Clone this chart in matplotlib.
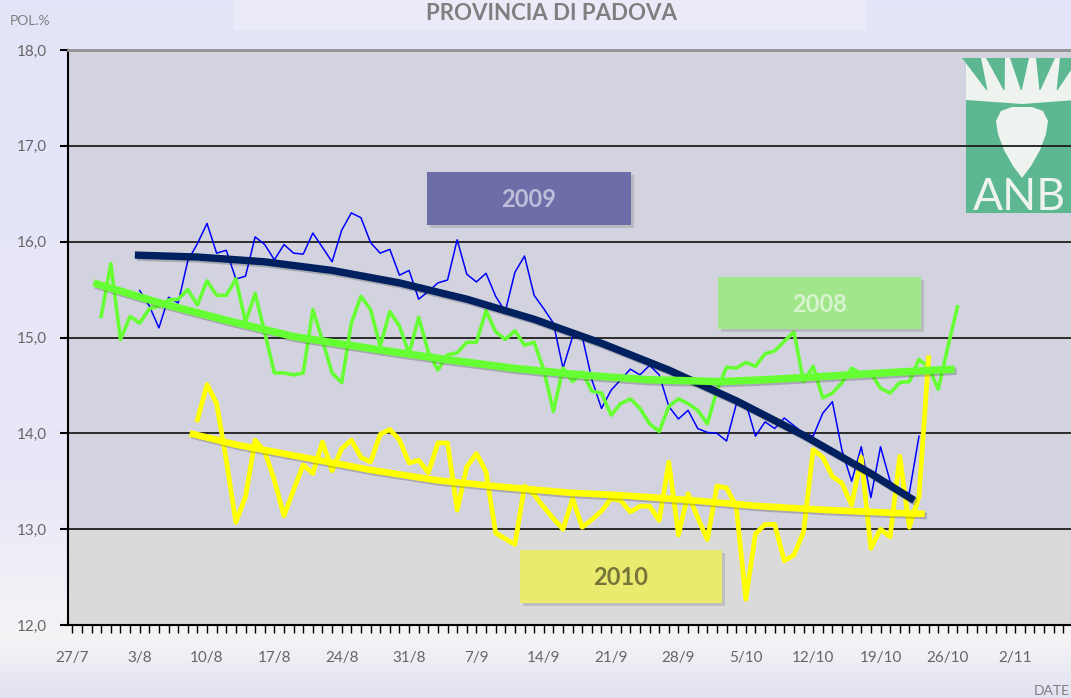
import numpy as np
import matplotlib
matplotlib.use('Agg')
import matplotlib.pyplot as plt
import matplotlib.transforms as mtransforms
import matplotlib.patheffects as pe
from matplotlib.patches import Rectangle, Polygon
from matplotlib.ticker import MultipleLocator, FixedLocator, FixedFormatter

W, H = 1071, 698
plt.rcParams['font.family'] = ['Lato', 'DejaVu Sans']

# days counted from 27/7
week_labels = ['27/7', '3/8', '10/8', '17/8', '24/8', '31/8', '7/9', '14/9',
               '21/9', '28/9', '5/10', '12/10', '19/10', '26/10', '2/11']
y_labels = ['12,0', '13,0', '14,0', '15,0', '16,0', '17,0', '18,0']

# daily polarisation values
start_2008 = 3
pol_2008 = [15.22, 15.77, 14.98, 15.22, 15.15, 15.30, 15.33, 15.39, 15.40, 15.50,
            15.34, 15.59, 15.44, 15.44, 15.61, 15.16, 15.46, 15.05, 14.63, 14.63,
            14.61, 14.63, 15.29, 14.97, 14.63, 14.53, 15.15, 15.43, 15.29, 14.91,
            15.27, 15.12, 14.83, 15.21, 14.85, 14.66, 14.82, 14.84, 14.95, 14.95,
            15.28, 15.06, 14.98, 15.07, 14.92, 14.95, 14.66, 14.23, 14.68, 14.54,
            14.64, 14.44, 14.42, 14.19, 14.31, 14.36, 14.26, 14.10, 14.02, 14.28,
            14.36, 14.31, 14.24, 14.10, 14.45, 14.69, 14.68, 14.74, 14.70, 14.83,
            14.86, 14.96, 15.06, 14.54, 14.70, 14.37, 14.42, 14.53, 14.68, 14.62,
            14.63, 14.47, 14.42, 14.53, 14.54, 14.77, 14.69, 14.46, 14.90, 15.32]

start_2009 = 7
pol_2009 = [15.49, 15.33, 15.10, 15.42, 15.36, 15.80, 15.98, 16.19, 15.88, 15.91,
            15.61, 15.64, 16.05, 15.97, 15.81, 15.97, 15.88, 15.87, 16.09, 15.94,
            15.79, 16.12, 16.30, 16.25, 15.99, 15.88, 15.92, 15.65, 15.70, 15.40,
            15.48, 15.57, 15.60, 16.02, 15.66, 15.58, 15.67, 15.43, 15.27, 15.68,
            15.85, 15.44, 15.30, 15.15, 14.68, 15.01, 15.01, 14.56, 14.26, 14.45,
            14.56, 14.67, 14.61, 14.71, 14.61, 14.28, 14.15, 14.24, 14.05, 14.01,
            14.00, 13.92, 14.30, 14.32, 13.97, 14.12, 14.05, 14.16, 14.08, 14.00,
            13.97, 14.21, 14.33, 13.82, 13.50, 13.86, 13.33, 13.86, 13.50, 13.39,
            13.38, 13.97]

start_2010 = 13
pol_2010 = [14.14, 14.51, 14.31, 13.72, 13.07, 13.34, 13.93, 13.81, 13.51, 13.14,
            13.41, 13.67, 13.58, 13.91, 13.61, 13.84, 13.93, 13.75, 13.70, 13.99,
            14.04, 13.93, 13.69, 13.72, 13.59, 13.90, 13.90, 13.20, 13.65, 13.79,
            13.60, 12.96, 12.90, 12.84, 13.45, 13.36, 13.23, 13.11, 13.00, 13.32,
            13.02, 13.10, 13.19, 13.32, 13.30, 13.18, 13.24, 13.24, 13.09, 13.70,
            12.94, 13.37, 13.12, 12.89, 13.45, 13.43, 13.24, 12.27, 12.95, 13.05,
            13.05, 12.67, 12.73, 12.97, 13.83, 13.75, 13.55, 13.48, 13.25, 13.75,
            12.80, 13.00, 12.92, 13.76, 13.02, 13.34, 14.79]

# trend lines
trend_2009_days = [6.5, 13, 20, 27, 34, 41, 48, 55, 62, 69, 76, 83, 87.5]
trend_2009_vals = [15.86, 15.84, 15.79, 15.70, 15.57, 15.40, 15.19, 14.94, 14.66,
                   14.34, 13.98, 13.58, 13.30]
trend_2008_days = [2.2, 9.1, 16, 23, 32, 38.9, 45.8, 52.8, 59.7, 67.3, 72.2, 79.1, 86, 91.7]
trend_2008_vals = [15.57, 15.36, 15.18, 15.01, 14.87, 14.77, 14.68, 14.61, 14.56,
                   14.54, 14.56, 14.60, 14.64, 14.67]
trend_2010_days = [12.2, 17.1, 24, 30.9, 37.9, 44.8, 51.7, 57.6, 64.5, 71.5, 78.4, 85.3, 88.6]
trend_2010_vals = [14.00, 13.88, 13.75, 13.62, 13.51, 13.44, 13.38, 13.35, 13.30,
                   13.24, 13.20, 13.17, 13.16]

fig = plt.figure(figsize=(W / 100, H / 100), dpi=100)
pix = mtransforms.Affine2D().scale(1 / W, -1 / H).translate(0, 1) + fig.transFigure

# figure background gradient
bg = fig.add_axes([0, 0, 1, 1], zorder=-5)
bg.set_xlim(0, W)
bg.set_ylim(H, 0)
bg.axis('off')
gy = [0, 480, 640, H]
gc = np.array([[228, 228, 250], [232, 232, 248], [244, 244, 246], [225, 225, 242]]) / 255
rows = np.arange(H)
grad = np.stack([np.interp(rows, gy, gc[:, k]) for k in range(3)], axis=1)
bg.imshow(grad[:, None, :], extent=[0, W, H, 0], aspect='auto')
bg.add_patch(Rectangle((233, 0), 633, 30, color='#EAEAF9', lw=0))

ax = fig.add_axes([68 / W, 1 - 625 / H, (W - 68) / W, 575 / H])
ax.set_facecolor('#D3D3DF')
ax.axhspan(12, 13, color='#DADADA', lw=0, zorder=0.1)

# ANB logo
lg = '#5DB891'
wh = '#EEF3F0'
ax.add_patch(Rectangle((966, 58), 110, 155, transform=pix, color=lg, lw=0, zorder=0.3))
ax.add_patch(Rectangle((966, 58), 110, 32, transform=pix, color=wh, lw=0, zorder=0.31))
for x0 in [966, 990, 1014, 1040, 1064]:
    cx = 1022
    ax.add_patch(Polygon([(x0 - 4, 58), (x0 + 15, 58), (x0 + 5 + (cx - x0) * 0.3, 92)],
                         transform=pix, color=lg, lw=0, zorder=0.32))
ax.add_patch(Polygon([(966, 90), (1076, 90), (1076, 100), (1022, 104), (966, 100)],
                     transform=pix, color=wh, lw=0, zorder=0.32))
ax.add_patch(Polygon([(996, 121), (1001, 111), (1012, 107), (1032, 107), (1043, 111),
                      (1048, 121), (1046, 134), (1040, 150), (1031, 166), (1022, 178),
                      (1013, 166), (1004, 150), (998, 134)],
                     transform=pix, color=wh, lw=0, zorder=0.33))
ax.text(973, 197, 'ANB', transform=pix, fontsize=32, color=wh,
        ha='left', va='center', zorder=0.34, clip_on=True)

d08 = start_2008 + np.arange(len(pol_2008))
d09 = start_2009 + np.arange(len(pol_2009))
d10 = start_2010 + np.arange(len(pol_2010))

ax.plot(d09, pol_2009, color='#0000FF', lw=1.1, zorder=2)
ax.plot(d08, pol_2008, color='#66FF33', lw=2.6, zorder=3)
ax.plot(d10, pol_2010, color='#FFFF00', lw=3.4, zorder=4)

shadow = [pe.SimpleLineShadow(offset=(1.5, -1.5), alpha=0.2), pe.Normal()]
ax.plot(trend_2009_days, trend_2009_vals, color='#002060', lw=5.3, zorder=5,
        solid_capstyle='butt', path_effects=shadow)
ax.plot(trend_2008_days, trend_2008_vals, color='#66FF33', lw=5.4, zorder=6,
        solid_capstyle='butt', path_effects=shadow)
ax.plot(trend_2010_days, trend_2010_vals, color='#FFFF00', lw=4.8, zorder=7,
        solid_capstyle='butt', path_effects=shadow)

ax.set_xlim(-0.45, 103.8)
ax.set_ylim(12, 18)
ax.set_yticks(np.arange(12, 18.5, 1))
ax.set_yticklabels(y_labels)
ax.xaxis.set_major_locator(FixedLocator(np.arange(len(week_labels)) * 7))
ax.xaxis.set_major_formatter(FixedFormatter(week_labels))
ax.xaxis.set_minor_locator(MultipleLocator(1))
ax.yaxis.grid(True, color='#1E1E1E', lw=1.3)
ax.set_axisbelow(True)
ax.tick_params(axis='x', which='both', direction='out', length=6, width=1, color='black')
ax.tick_params(axis='x', which='major', pad=13, labelsize=11, labelcolor='#666666')
ax.tick_params(axis='y', direction='out', length=6, width=1.5, color='black',
               pad=9, labelsize=11, labelcolor='#666666')
ax.spines['right'].set_visible(False)
ax.spines['top'].set_color('#909090')
ax.spines['top'].set_linewidth(2)
ax.spines['left'].set_linewidth(1.5)
ax.spines['bottom'].set_linewidth(1.5)

fig.text(551 / W, 1 - 13 / H, 'PROVINCIA DI PADOVA', ha='center', va='center',
         fontsize=16, fontweight='bold', color='#7F7F7F')
fig.text(10 / W, 1 - 21 / H, 'POL.%', ha='left', va='center', fontsize=10, color='#7F7F7F')
fig.text(1 - 1 / W, 1 - 691 / H, 'DATE', ha='right', va='center', fontsize=10, color='#7F7F7F')

# year boxes
boxes = [('2009', 427, 172, 204, 53, '#6D6DA8', '#BDBDDA'),
         ('2008', 718, 277, 203, 52, '#A2E68C', '#D8F4CE'),
         ('2010', 520, 550, 202, 53, '#EAEA6E', '#76763B')]
for label, bx, by, bw, bh, fc, tc in boxes:
    fig.add_artist(Rectangle((bx + 3, by + 3), bw, bh, transform=pix, color='#808080',
                             alpha=0.3, lw=0, zorder=8))
    fig.add_artist(Rectangle((bx, by), bw, bh, transform=pix, fc=fc, ec='none', zorder=9))
    fig.text((bx + bw / 2) / W, 1 - (by + bh / 2 + 1) / H, label, ha='center', va='center',
             fontsize=17, fontweight='bold', color=tc, zorder=10)

fig.savefig('out.png', dpi=100)
